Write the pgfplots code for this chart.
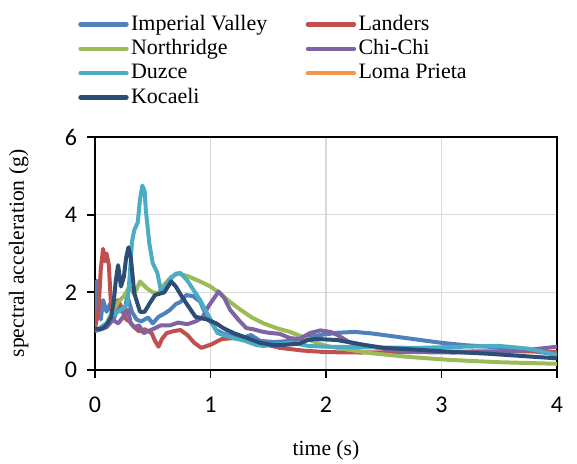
\documentclass[border=0pt]{standalone}
\usepackage{pgfplots}
\pgfplotsset{compat=1.18}
\usepackage{fontspec}
\setmainfont{Liberation Serif}
\newfontfamily\calib{Carlito}

\definecolor{cIV}{HTML}{4F81BD}
\definecolor{cLA}{HTML}{C0504D}
\definecolor{cNR}{HTML}{9BBB59}
\definecolor{cCC}{HTML}{8064A2}
\definecolor{cDU}{HTML}{4BACC6}
\definecolor{cLP}{HTML}{F79646}
\definecolor{cKO}{HTML}{2C4D75}

\begin{document}
\begin{tikzpicture}
\begin{axis}[
    scale only axis,
    width=231pt, height=116.5pt,
    xmin=0, xmax=4, ymin=0, ymax=6,
    xtick={0,1,2,3,4}, ytick={0,2,4,6},
    xtick pos=bottom, ytick pos=left,
    tick align=outside,
    major tick length=4pt,
    tick style={black, line width=0.9pt},
    axis line style={black, line width=0.9pt},
    grid=major,
    grid style={gray!30, line width=0.7pt},
    /pgf/number format/assume math mode=true,
    xticklabel style={font=\calib\fontsize{12}{12}\selectfont, yshift=-6pt},
    yticklabel style={font=\calib\fontsize{12}{12}\selectfont, xshift=-1.5pt},
    xlabel={time (s)},
    ylabel={spectral acceleration (g)},
    label style={font=\rmfamily\fontsize{10.8}{12}\selectfont},
    xlabel style={at={(axis description cs:0.5,-0.345)}, anchor=center},
    ylabel style={at={(axis description cs:-0.165,0.5)}, anchor=center},
    legend columns=2,
    legend cell align=left,
    legend style={at={(axis description cs:-0.05,1.555)}, anchor=north west,
        draw=none, fill=none, font=\rmfamily\fontsize{11}{12}\selectfont,
        nodes={inner sep=1.2pt, text height=7.8pt, text depth=2.0pt},
        /tikz/every even column/.append style={column sep=18pt}},
    legend image code/.code={\draw[#1, line width=2.2pt, line cap=round] (0pt,0pt) -- (23pt,0pt);},
    every axis plot/.append style={line width=2pt, line join=round, no markers},
]
\addplot[cIV] coordinates {
(0,1.0)(0.015,2.3)(0.03,1.9)(0.05,1.3)(0.07,1.8)(0.1,1.5)(0.13,1.7)(0.16,1.3)(0.2,1.6)(0.25,1.45)(0.28,1.9)(0.32,1.5)(0.36,1.3)(0.4,1.25)(0.46,1.35)(0.5,1.2)(0.55,1.37)(0.6,1.45)(0.65,1.55)(0.7,1.7)(0.74,1.75)(0.79,1.93)(0.85,1.9)(0.91,1.76)(0.95,1.5)(1.0,1.25)(1.05,1.03)(1.1,0.95)(1.2,0.86)(1.3,0.85)(1.35,0.9)(1.43,0.75)(1.55,0.72)(1.7,0.75)(1.85,0.85)(1.95,0.9)(2.1,0.96)(2.25,0.98)(2.4,0.94)(2.6,0.86)(2.8,0.78)(3.0,0.7)(3.2,0.64)(3.4,0.6)(3.6,0.55)(3.8,0.48)(4.0,0.4)
};
\addlegendentry{Imperial Valley}
\addplot[cLA] coordinates {
(0,1.1)(0.03,1.5)(0.05,2.6)(0.07,3.12)(0.085,2.8)(0.1,3.0)(0.12,2.7)(0.14,1.6)(0.16,1.5)(0.2,1.8)(0.23,1.6)(0.27,1.3)(0.3,1.25)(0.34,1.1)(0.38,1.0)(0.43,1.05)(0.49,0.95)(0.52,0.75)(0.55,0.6)(0.58,0.8)(0.62,0.95)(0.68,1.0)(0.74,1.03)(0.8,0.9)(0.86,0.7)(0.92,0.57)(1.0,0.65)(1.1,0.8)(1.2,0.82)(1.32,0.78)(1.45,0.68)(1.6,0.57)(1.8,0.5)(2.0,0.46)(2.3,0.45)(2.6,0.46)(3.0,0.47)(3.4,0.48)(3.8,0.48)(4.0,0.46)
};
\addlegendentry{Landers}
\addplot[cNR] coordinates {
(0,1.0)(0.05,1.1)(0.1,1.2)(0.15,1.5)(0.2,1.75)(0.25,1.9)(0.3,2.15)(0.34,1.95)(0.39,2.28)(0.45,2.1)(0.5,2.0)(0.55,1.98)(0.6,2.2)(0.66,2.4)(0.72,2.48)(0.8,2.42)(0.91,2.28)(1.0,2.15)(1.08,1.98)(1.17,1.75)(1.26,1.55)(1.36,1.35)(1.46,1.2)(1.58,1.07)(1.69,0.98)(1.8,0.85)(1.92,0.7)(2.0,0.62)(2.2,0.52)(2.4,0.43)(2.7,0.34)(3.07,0.26)(3.5,0.2)(4.0,0.16)
};
\addlegendentry{Northridge}
\addplot[cCC] coordinates {
(0,1.0)(0.05,1.05)(0.1,1.1)(0.155,1.29)(0.2,1.2)(0.24,1.35)(0.285,1.55)(0.31,1.2)(0.34,1.1)(0.38,1.15)(0.42,0.95)(0.5,1.05)(0.57,1.15)(0.65,1.15)(0.72,1.22)(0.8,1.18)(0.87,1.25)(0.93,1.35)(0.98,1.63)(1.07,2.02)(1.12,1.85)(1.17,1.55)(1.24,1.3)(1.31,1.08)(1.37,1.05)(1.43,1.0)(1.5,0.96)(1.6,0.93)(1.69,0.82)(1.77,0.8)(1.86,0.95)(1.95,1.02)(2.04,0.98)(2.1,0.9)(2.2,0.72)(2.4,0.6)(2.6,0.5)(2.8,0.46)(3.1,0.45)(3.4,0.46)(3.7,0.5)(4.0,0.6)
};
\addlegendentry{Chi-Chi}
\addplot[cDU] coordinates {
(0,1.0)(0.05,1.1)(0.1,1.2)(0.15,1.4)(0.2,1.5)(0.25,1.6)(0.28,1.7)(0.3,2.4)(0.32,3.3)(0.34,3.6)(0.37,3.8)(0.39,4.4)(0.41,4.75)(0.43,4.6)(0.44,4.12)(0.47,3.27)(0.5,2.75)(0.54,2.5)(0.57,2.06)(0.6,2.1)(0.64,2.3)(0.7,2.48)(0.74,2.5)(0.8,2.3)(0.91,1.8)(1.0,1.3)(1.06,0.95)(1.2,0.82)(1.3,0.75)(1.4,0.64)(1.46,0.62)(1.55,0.65)(1.7,0.7)(1.85,0.62)(2.0,0.6)(2.4,0.58)(2.8,0.57)(3.2,0.6)(3.5,0.62)(3.75,0.55)(4.0,0.39)
};
\addlegendentry{Duzce}
\addlegendimage{cLP}
\addlegendentry{Loma Prieta}
\addplot[cKO] coordinates {
(0,1.05)(0.05,1.05)(0.08,1.1)(0.11,1.2)(0.14,1.37)(0.16,1.7)(0.18,2.3)(0.2,2.7)(0.225,2.15)(0.25,2.4)(0.27,2.9)(0.29,3.16)(0.31,2.9)(0.34,1.98)(0.39,1.5)(0.43,1.5)(0.47,1.7)(0.52,1.93)(0.6,2.0)(0.66,2.28)(0.7,2.15)(0.74,1.95)(0.79,1.72)(0.87,1.37)(0.97,1.3)(1.05,1.2)(1.11,1.08)(1.2,0.95)(1.32,0.82)(1.43,0.7)(1.54,0.64)(1.65,0.65)(1.77,0.68)(1.84,0.77)(1.92,0.8)(2.1,0.77)(2.3,0.66)(2.5,0.57)(2.8,0.52)(3.07,0.47)(3.4,0.42)(3.7,0.36)(4.0,0.3)
};
\addlegendentry{Kocaeli}
\end{axis}
\pgfresetboundingbox
\path (-47.5pt,-47pt) rectangle (241pt,185pt);
\end{tikzpicture}
\end{document}
